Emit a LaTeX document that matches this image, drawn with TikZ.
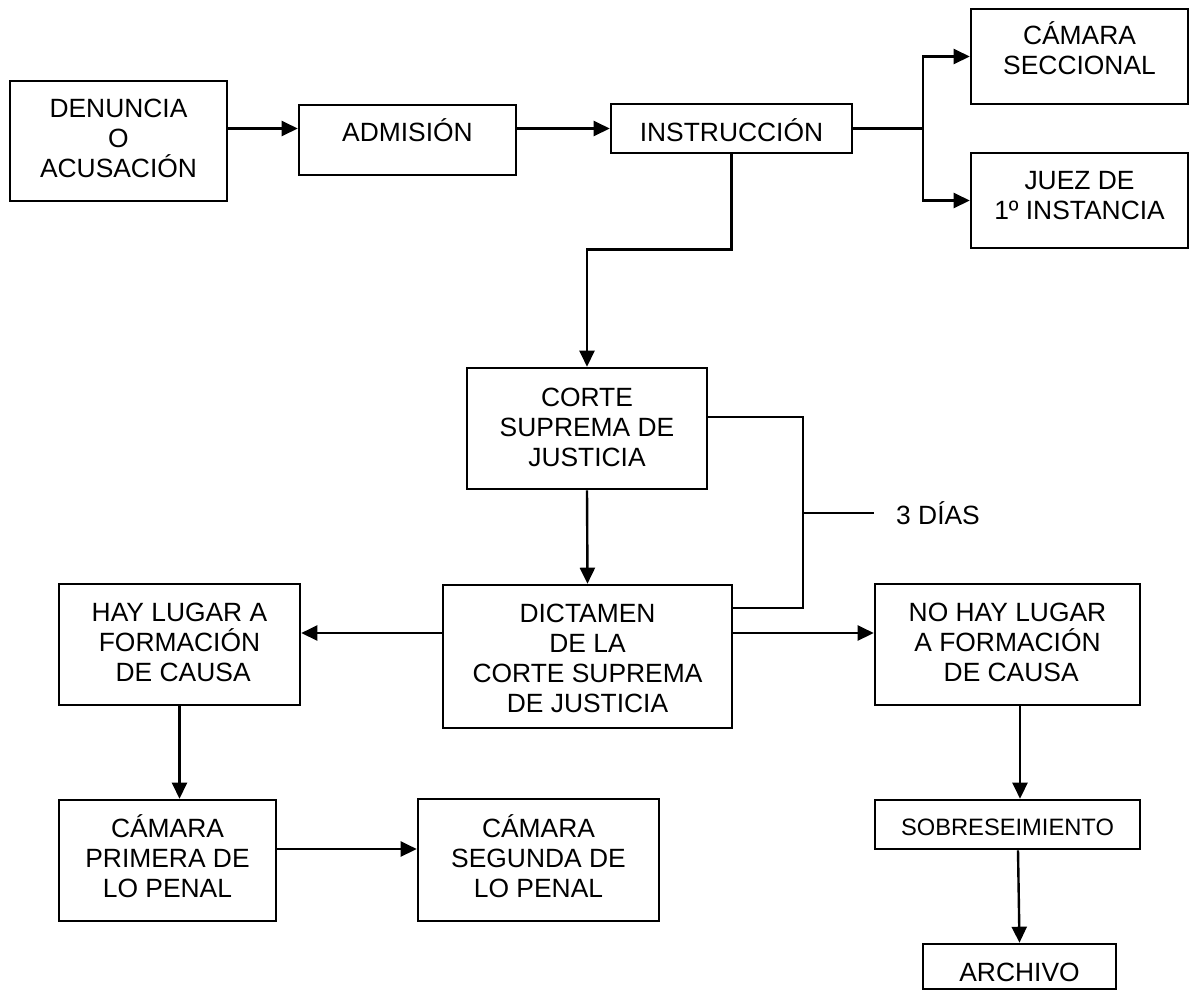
\documentclass[tikz,border=0pt]{standalone}
\usepackage{fontspec}
\setmainfont{Liberation Sans}
\usetikzlibrary{arrows.meta}
\tikzset{
  box/.style={draw, line width=2.6pt, rectangle, inner sep=0pt, align=center,
    font=\fontsize{26.4pt}{30pt}\selectfont, text depth=0pt},
  arr/.style={line width=2.4pt, -{Triangle[length=16pt,width=15pt]}},
  ln/.style={line width=2.4pt},
  lbl/.style={inner xsep=22pt, inner ysep=0pt, anchor=west,
    font=\fontsize{26.4pt}{30pt}\selectfont, text depth=0pt}
}
\begin{document}
\begin{tikzpicture}[x=1pt, y=-1pt]
\useasboundingbox (0,0) rectangle (1193,991);
% boxes
\node[box, minimum width=217pt, minimum height=120pt, text height=73pt] (den) at (118.5,141) {DENUNCIA\\O\\ACUSACIÓN};
\node[box, minimum width=217pt, minimum height=70pt, text height=3pt] (adm) at (407.5,140) {ADMISIÓN};
\node[box, minimum width=241pt, minimum height=49pt, text height=26pt] (ins) at (731.5,128.5) {INSTRUCCIÓN};
\node[box, minimum width=217pt, minimum height=95pt, text height=36pt] (sec) at (1079.5,56.5) {CÁMARA\\SECCIONAL};
\node[box, minimum width=217pt, minimum height=95pt, text height=38pt] (juez) at (1079.5,200.5) {JUEZ DE\\1º INSTANCIA};
\node[box, minimum width=240pt, minimum height=121pt, text height=76pt] (corte) at (587,428.5) {CORTE\\SUPREMA DE\\JUSTICIA};
\node[box, minimum width=289pt, minimum height=143pt, text height=112pt] (dict) at (587.5,656.5) {DICTAMEN\\DE LA\\CORTE SUPREMA\\DE JUSTICIA};
\node[box, minimum width=241pt, minimum height=121pt, text height=74pt] (hay) at (179.5,644.5) {HAY LUGAR A\\FORMACIÓN\\\ DE CAUSA};
\node[box, minimum width=265pt, minimum height=121pt, text height=74pt] (nohay) at (1007.5,644.5) {NO HAY LUGAR\\A FORMACIÓN\\\ DE CAUSA};
\node[box, minimum width=217pt, minimum height=121pt, text height=74pt] (pri) at (167.5,860.5) {CÁMARA\\PRIMERA DE\\LO PENAL};
\node[box, minimum width=241pt, minimum height=122pt, text height=75pt] (seg) at (538.5,860) {CÁMARA\\SEGUNDA DE\\LO PENAL};
\node[box, minimum width=265pt, minimum height=49pt, text height=22pt, font=\fontsize{23.7pt}{27pt}\selectfont] (sob) at (1007.5,824.5) {SOBRESEIMIENTO};
\node[box, minimum width=193pt, minimum height=45pt, text height=30pt] (arch) at (1019.5,966.5) {ARCHIVO};
\node[lbl, text height=23pt] (dias) at (874,513) {3 DÍAS};
% helper coordinates
\coordinate (j) at (923,128.5);
\coordinate (b1) at (803,417);
\coordinate (b2) at (803,608);
\coordinate (b3) at (803,513);
\coordinate (m) at (0,633);
\coordinate (p) at (0,849);
\coordinate (q) at (1020,0);
% connectors
\draw[arr] (den.east |- ins.west) -- (adm.west |- ins.west);
\draw[arr] (adm.east |- ins.west) -- (ins.west);
\draw[ln] (ins.east) -- (j);
\draw[arr] (j) |- (sec.west);
\draw[arr] (j) |- (juez.west);
\draw[arr] (ins.south) -- ++(0,95) -| (corte.north);
\draw[arr] (corte.south) -- (dict.north);
\draw[ln] (corte.east |- b1) -- (b1) -- (b2) -- (dict.east |- b2);
\draw[ln] (b3) -- (dias.west);
\draw[arr] (dict.west |- m) -- (hay.east |- m);
\draw[arr] (dict.east |- m) -- (nohay.west |- m);
\draw[arr] (hay.south) -- (hay.south |- pri.north);
\draw[arr] (pri.east |- p) -- (seg.west |- p);
\draw[arr] (nohay.south -| q) -- (sob.north -| q);
\draw[arr] ([xshift=10.5pt]sob.south) -- (arch.north);
\end{tikzpicture}
\end{document}
